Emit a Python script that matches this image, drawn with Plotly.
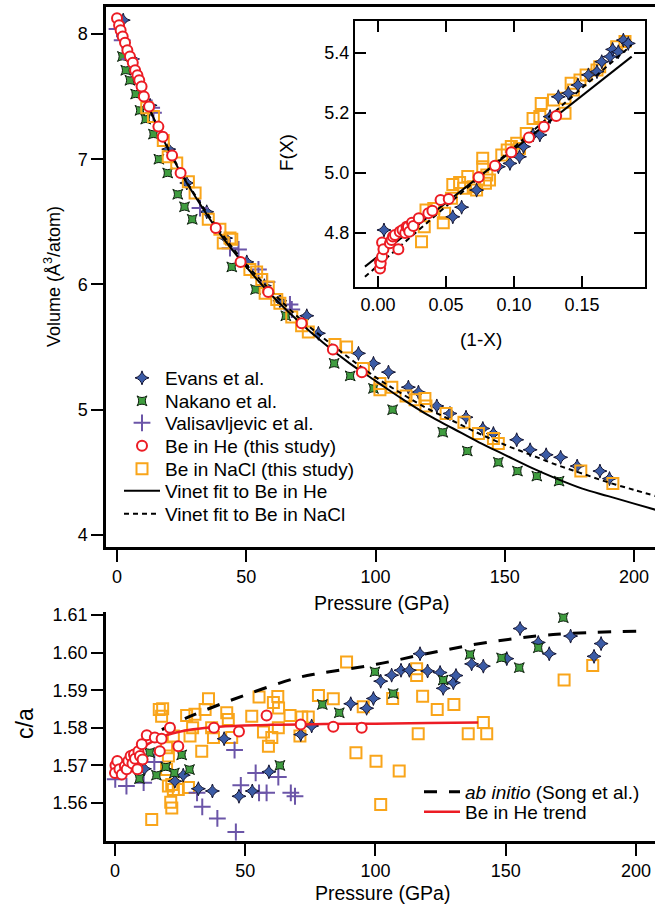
import plotly.graph_objects as go

W, H = 655, 906

# ---------------- main panel data (Pressure GPa, Volume A^3/atom) ----------------
evans_P = [2.4, 6, 12.8, 20, 27, 34.7, 42, 50.2, 57, 63, 73.4, 77.9, 93.4, 99.2, 105, 112.7, 116.6,
           123.7, 128.8, 135, 141.5, 145.6, 154.6, 159.8, 166, 171.6, 178, 186.8, 190.5]
evans_V = [8.11, 7.80, 7.43, 7.08, 6.81, 6.58, 6.37, 6.18, 5.99, 5.87, 5.75, 5.61, 5.45, 5.37, 5.30, 5.18, 5.14,
           5.03, 4.97, 4.94, 4.85, 4.81, 4.76, 4.68, 4.64, 4.62, 4.55, 4.51, 4.45]

nakano_P = [2.1, 3.4, 5.0, 7.2, 8.9, 11.1, 14.1, 16.2, 19.6, 23.5, 26.1, 29.1, 44.4, 53.6, 65.3, 84.0,
            90.2, 99.2, 106.6, 126, 135.5, 147.5, 154.9, 162.4, 171]
nakano_V = [7.82, 7.71, 7.63, 7.52, 7.39, 7.32, 7.20, 7.00, 6.89, 6.72, 6.62, 6.52, 6.14, 5.96, 5.75, 5.37,
            5.27, 5.17, 5.00, 4.82, 4.67, 4.58, 4.51, 4.47, 4.43]

vali_P = [0, 2, 5, 13.4, 14.1, 32.1, 43.7, 47, 54.7, 58, 66.9, 67.6]
vali_V = [8.04, 7.95, 7.80, 7.41, 7.37, 6.61, 6.29, 6.28, 6.12, 6.02, 5.84, 5.80]

he_P = [0, 0.8, 1.4, 2.2, 3.1, 4.0, 5.0, 6.1, 7.0, 7.9, 8.6, 9.5, 10.4, 12.4, 16.0, 17.7, 21.3, 24.6,
        38.2, 47.8, 58.5, 71.4, 83.5, 94.7]
he_V = [8.125, 8.07, 8.03, 7.98, 7.93, 7.87, 7.82, 7.77, 7.71, 7.67, 7.63, 7.58, 7.50, 7.42, 7.26, 7.18,
        7.03, 6.89, 6.45, 6.18, 5.94, 5.69, 5.48, 5.30]

nacl_P = [11.5, 14.1, 17.9, 19.8, 23.1, 27.6, 30.2, 35.3, 39.8, 41.1, 43.7, 44.4, 51.4, 54.0, 56.0, 57.3,
          58.5, 61.8, 63.0, 67.6, 71.4, 74.0, 84.3, 88.8, 95.3, 101.7, 101.7, 106.3, 111.8, 115.3, 119.1,
          119.5, 127.3, 134.2, 139.8, 145.6, 147.5, 179.4, 191.8]
nacl_V = [7.41, 7.34, 7.15, 7.02, 6.97, 6.82, 6.73, 6.52, 6.44, 6.33, 6.37, 6.36, 6.12, 6.10, 6.04, 5.93,
          5.98, 5.88, 5.85, 5.74, 5.67, 5.62, 5.52, 5.50, 5.33, 5.21, 5.16, 5.18, 5.11, 5.08, 5.09,
          5.03, 4.97, 4.90, 4.81, 4.77, 4.73, 4.51, 4.41]

fitHe_P = [0, 5, 10, 15, 20, 25, 30, 40, 50, 60, 70, 80, 90, 100, 110, 120, 130, 140, 150, 160, 170,
           180, 190, 200, 208.5]
fitHe_V = [8.125, 7.82, 7.53, 7.29, 7.07, 6.88, 6.71, 6.40, 6.14, 5.91, 5.71, 5.53, 5.37, 5.23, 5.09,
           4.96, 4.85, 4.74, 4.64, 4.54, 4.45, 4.37, 4.31, 4.25, 4.20]

fitNaCl_P = [0, 5, 10, 15, 20, 25, 30, 40, 50, 60, 70, 80, 90, 100, 110, 120, 130, 140, 150, 160, 170,
             180, 190, 200, 208.5]
fitNaCl_V = [8.12, 7.82, 7.53, 7.29, 7.08, 6.89, 6.72, 6.42, 6.16, 5.94, 5.74, 5.57, 5.41, 5.26, 5.13,
             5.01, 4.91, 4.81, 4.72, 4.64, 4.56, 4.49, 4.42, 4.36, 4.31]

# ---------------- inset data ((1-X), F(X)) ----------------
in_he_x = [0.0015, 0.0015, 0.002, 0.003, 0.003, 0.004, 0.0088, 0.010, 0.011, 0.0125, 0.015, 0.016, 0.018,
           0.020, 0.021, 0.022, 0.023, 0.025, 0.026, 0.030, 0.037, 0.040, 0.046, 0.052, 0.074, 0.086,
           0.098, 0.111, 0.122, 0.131]
in_he_F = [4.682, 4.704, 4.699, 4.721, 4.768, 4.746, 4.766, 4.777, 4.788, 4.793, 4.746, 4.804, 4.81,
           4.80, 4.821, 4.82, 4.804, 4.834, 4.823, 4.849, 4.866, 4.874, 4.91, 4.913, 4.986, 5.024,
           5.069, 5.118, 5.154, 5.19]

in_nacl_x = [0.032, 0.034, 0.0353, 0.041, 0.048, 0.049, 0.054, 0.055, 0.060, 0.063, 0.066, 0.070, 0.0725,
             0.077, 0.077, 0.079, 0.080, 0.082, 0.091, 0.095, 0.098, 0.102, 0.104, 0.109, 0.114, 0.119,
             0.120, 0.129, 0.1375, 0.1375, 0.142, 0.1436, 0.1485, 0.153, 0.161, 0.163, 0.1755, 0.1816]
in_nacl_F = [4.771, 4.821, 4.877, 4.882, 4.834, 4.866, 4.916, 4.962, 4.968, 4.949, 4.988, 4.954, 4.943,
             5.049, 5.021, 4.966, 4.993, 4.977, 5.06, 5.077, 5.088, 5.099, 5.082, 5.132, 5.182, 5.188,
             5.232, 5.243, 5.199, 5.249, 5.299, 5.277, 5.31, 5.327, 5.343, 5.354, 5.421, 5.438]

in_ev_x = [0.0044, 0.055, 0.0615, 0.0725, 0.0885, 0.097, 0.104, 0.107, 0.114, 0.119, 0.1265, 0.1326,
           0.140, 0.147, 0.1547, 0.161, 0.1645, 0.1706, 0.1725, 0.1767, 0.1804, 0.184]
in_ev_F = [4.81, 4.854, 4.886, 4.943, 5.021, 5.032, 5.054, 5.088, 5.127, 5.127, 5.188, 5.254,
           5.266, 5.293, 5.327, 5.338, 5.371, 5.388, 5.412, 5.404, 5.443, 5.432]

in_fitHe_x = [-0.0096, 0.1865]
in_fitHe_F = [4.688, 5.388]
in_fitNaCl_x = [-0.0096, 0.1865]
in_fitNaCl_F = [4.654, 5.427]

# ---------------- bottom panel data (Pressure GPa, c/a) ----------------
ca_he_P = [0.2, 0.0, 0.9, 1.7, 2.6, 3.8, 4.5, 5.1, 6.0, 6.7, 7.3, 7.7, 8.6, 9.0, 9.6, 10.3, 10.6, 12.2,
           15.3, 17.2, 17.9, 21.1, 24.3, 38.0, 47.6, 58.2, 71.3, 83.8, 94.7]
ca_he = [1.5700, 1.5680, 1.5712, 1.5690, 1.5676, 1.5698, 1.5690, 1.5712, 1.5725, 1.5705, 1.5729, 1.5718,
         1.5690, 1.5738, 1.5725, 1.5756, 1.5716, 1.5780, 1.5774, 1.5738, 1.5771, 1.5800, 1.5751,
         1.5800, 1.5790, 1.5833, 1.5809, 1.5803, 1.5800]

ca_nacl_P = [14.1, 17.0, 17.9, 18.3, 19.8, 20.5, 21.8, 21.4, 21.8, 22.4, 20.5, 19.8, 22.4, 24.3, 27.5,
             28.2, 28.8, 30.7, 29.8, 33.3, 34.6, 35.9, 37.1, 37.8, 42.9, 43.5, 44.8, 52.5, 55.3, 57.0,
             58.9, 60.2, 60.8, 62.5, 62.8, 62.7, 67.2, 71.0, 71.7, 74.2, 78.1, 83.8, 88.9, 95.3, 92.5,
             100.2, 102.0, 106.6, 109.1, 115.8, 115.8, 116.4, 118.1, 123.7, 130.1, 135.6, 141.4,
             142.7, 172.4, 183.4]
ca_nacl = [1.5556, 1.5849, 1.5831, 1.5851, 1.5689, 1.5645, 1.5649, 1.5602, 1.5587, 1.5636, 1.5725,
           1.5747, 1.5778, 1.5636, 1.5833, 1.5641, 1.5778, 1.5836, 1.5800, 1.5738, 1.5849, 1.5877,
           1.5800, 1.5774, 1.5840, 1.5822, 1.5774, 1.5831, 1.5882, 1.5789, 1.5751, 1.5774, 1.5867,
           1.5883, 1.5853, 1.5800, 1.5833, 1.5778, 1.5829, 1.5829, 1.5886, 1.5877, 1.5975, 1.5856,
           1.5734, 1.5711, 1.5596, 1.5878, 1.5685, 1.5957, 1.5939, 1.5784, 1.5884, 1.5849, 1.5862,
           1.5784, 1.5814, 1.5784, 1.5927, 1.5966]

ca_ev_P = [11.3, 23.0, 26.2, 32.0, 37.4, 41.9, 47.6, 52.7, 59.1, 71.3, 75.5, 90.5, 96.6, 99.2, 102.0,
           106.2, 109.8, 113.0, 117.1, 120.0, 124.8, 126.0, 129.9, 130.9, 136.9, 141.4, 150.4, 151.6,
           155.5, 162.5, 166.7, 174.9, 183.9, 186.6]
ca_ev = [1.5691, 1.5658, 1.5674, 1.5638, 1.5632, 1.5771, 1.5618, 1.5632, 1.5683, 1.5782, 1.5805,
         1.5864, 1.5852, 1.5878, 1.5924, 1.5940, 1.5953, 1.5953, 1.5997, 1.5951, 1.5947, 1.5905,
         1.5920, 1.5939, 1.5970, 1.5964, 1.5984, 1.6115, 1.6064, 1.6027, 1.5997, 1.6044, 1.5990,
         1.6024]

ca_nak_P = [9.4, 13.3, 15.9, 19.5, 22.8, 25.6, 28.6, 63.3, 79.6, 86.1, 99.8, 106.8, 126.0, 136.3, 148.4,
            155.2, 162.5, 172.1]
ca_nak = [1.5665, 1.5734, 1.5674, 1.5696, 1.5680, 1.5728, 1.5689, 1.5700, 1.5862, 1.5840, 1.5949,
          1.5891, 1.5927, 1.5995, 1.5986, 1.5960, 1.6013, 1.6093]

ca_vali_P = [0.1, 4.4, 11.0, 15.1, 31.5, 33.5, 39.3, 45.9, 46.4, 48.3, 54.0, 55.3, 58.2, 62.7, 67.5, 69.1]
ca_vali = [1.5663, 1.5645, 1.5654, 1.5709, 1.5627, 1.5590, 1.5559, 1.5741, 1.5523, 1.5647, 1.5680,
           1.5627, 1.5627, 1.5669, 1.5627, 1.5618]

abinit_P = [18, 29.7, 49.5, 70, 78.7, 100.4, 121, 142.7, 168.2, 200.3]
abinit_ca = [1.5795, 1.5833, 1.5886, 1.5933, 1.5945, 1.5969, 1.5999, 1.6027, 1.6048, 1.6057]

trend_P = [0, 5, 10, 15, 20, 30, 40, 60, 80, 100, 120, 139.4]
trend_ca = [1.5697, 1.5717, 1.5745, 1.5766, 1.5781, 1.5796, 1.5803, 1.5808, 1.5810, 1.5811, 1.5813, 1.5814]

# ---------------- styles ----------------
FONT = "Liberation Sans, Arial, Helvetica, sans-serif"
RED = "#ec1c24"
ORANGE = "#f9a51a"
BLUE = "#3b5ba5"
GREEN = "#3f9d3f"
PURPLE = "#6b55a8"

m_ev = dict(symbol="star-diamond", size=10, color=BLUE, line=dict(color="#141430", width=1))
m_nak = dict(symbol="star-square", size=9, color=GREEN, line=dict(color="#102010", width=1))
m_vali = dict(symbol="cross-thin", size=12, color=PURPLE, line=dict(color=PURPLE, width=2))
m_he = dict(symbol="circle", size=10, color="white", line=dict(color=RED, width=2))
m_nacl = dict(symbol="square-open", size=11, color=ORANGE, line=dict(color=ORANGE, width=2))

fig = go.Figure()

def sc(x, y, name, marker, ax, legend=None, show=False):
    kw = dict(x=x, y=y, mode="markers", name=name, marker=marker, xaxis=ax[0], yaxis=ax[1],
              showlegend=show, cliponaxis=False)
    if legend:
        kw["legend"] = legend
    fig.add_trace(go.Scatter(**kw))

main = ("x", "y")
ins = ("x2", "y2")
bot = ("x3", "y3")

# main panel
sc(nakano_P, nakano_V, "Nakano et al.", m_nak, main, "legend2", True)
sc(evans_P, evans_V, "Evans et al.", m_ev, main, "legend", True)
sc(vali_P, vali_V, "Valisavljevic et al.", m_vali, main, "legend3", True)
sc(nacl_P, nacl_V, "Be in NaCl (this study)", m_nacl, main, "legend5", True)
fig.add_trace(go.Scatter(x=fitHe_P, y=fitHe_V, mode="lines", name="Vinet fit to Be in He",
                         line=dict(color="black", width=2, shape="spline"), xaxis="x", yaxis="y",
                         legend="legend6"))
fig.add_trace(go.Scatter(x=fitNaCl_P, y=fitNaCl_V, mode="lines", name="Vinet fit to Be in NaCl",
                         line=dict(color="black", width=2, dash="5px,4px", shape="spline"),
                         xaxis="x", yaxis="y", legend="legend7"))
sc(he_P, he_V, "Be in He (this study)", m_he, main, "legend4", True)

# inset
sc(in_nacl_x, in_nacl_F, "nacl_in", m_nacl, ins)
sc(in_ev_x, in_ev_F, "ev_in", m_ev, ins)
fig.add_trace(go.Scatter(x=in_fitHe_x, y=in_fitHe_F, mode="lines", showlegend=False,
                         line=dict(color="black", width=2), xaxis="x2", yaxis="y2"))
fig.add_trace(go.Scatter(x=in_fitNaCl_x, y=in_fitNaCl_F, mode="lines", showlegend=False,
                         line=dict(color="black", width=2, dash="5px,4px"), xaxis="x2", yaxis="y2"))
sc(in_he_x, in_he_F, "he_in", m_he, ins)

# bottom panel
sc(ca_nacl_P, ca_nacl, "nacl_ca", m_nacl, bot)
sc(ca_vali_P, ca_vali, "vali_ca", m_vali, bot)
fig.add_trace(go.Scatter(x=abinit_P, y=abinit_ca, mode="lines", name="<i>ab initio</i> (Song et al.)",
                         line=dict(color="black", width=3, dash="13px,12px", shape="spline"),
                         xaxis="x3", yaxis="y3", legend="legend8"))
sc(ca_ev_P, ca_ev, "ev_ca", m_ev, bot)
sc(ca_nak_P, ca_nak, "nak_ca", m_nak, bot)
fig.add_trace(go.Scatter(x=trend_P, y=trend_ca, mode="lines", name="Be in He trend",
                         line=dict(color=RED, width=2.5, shape="spline"), xaxis="x3", yaxis="y3",
                         legend="legend9"))
sc(ca_he_P, ca_he, "he_ca", m_he, bot)

# ---------------- layout ----------------
def px(xp):
    return xp / W

def py(yp):
    return 1 - yp / H

tickfont = dict(family=FONT, size=18, color="black")
axis_common = dict(showgrid=False, zeroline=False, showline=True, linecolor="black",
                   tickcolor="black", tickfont=tickfont, automargin=False)

layout = dict(
    width=W, height=H, margin=dict(l=0, r=0, t=0, b=0, autoexpand=False),
    paper_bgcolor="white", plot_bgcolor="white",
    font=dict(family=FONT, size=18, color="black"),
    xaxis=dict(axis_common, domain=[px(106), 1], range=[-4.26, 208.1], anchor="y",
               ticks="outside", ticklen=12, tickwidth=2, linewidth=2.5, mirror=True,
               tickvals=[0, 50, 100, 150, 200]),
    yaxis=dict(axis_common, domain=[py(547), py(7)], range=[3.904, 8.215], anchor="x",
               ticks="outside", ticklen=12, tickwidth=2, linewidth=2.5,
               tickvals=[4, 5, 6, 7, 8]),
    xaxis2=dict(axis_common, domain=[px(355), px(645)], range=[-0.0169, 0.1963], anchor="y2",
                ticks="inside", ticklen=11, tickwidth=2, linewidth=2, mirror="allticks",
                tickvals=[0, 0.05, 0.10, 0.15], ticktext=["0.00", "0.05", "0.10", "0.15"]),
    yaxis2=dict(axis_common, domain=[py(287), py(21)], range=[4.62, 5.5067], anchor="x2",
                ticks="inside", ticklen=11, tickwidth=2, linewidth=2, mirror="allticks",
                tickvals=[4.8, 5.0, 5.2, 5.4], ticktext=["4.8", "5.0", "5.2", "5.4"]),
    xaxis3=dict(axis_common, domain=[px(106), 1], range=[-3.45, 207.3], anchor="y3",
                ticks="outside", ticklen=12, tickwidth=2, linewidth=2.5,
                tickvals=[0, 50, 100, 150, 200]),
    yaxis3=dict(axis_common, domain=[py(841), py(612)], range=[1.5499, 1.6108], anchor="x3",
                ticks="outside", ticklen=12, tickwidth=2, linewidth=2.5,
                tickvals=[1.56, 1.57, 1.58, 1.59, 1.60, 1.61],
                ticktext=["1.56", "1.57", "1.58", "1.59", "1.60", "1.61"]),
)

leg_font = dict(family=FONT, size=19, color="black")
main_leg_y = [378, 401, 423, 446, 469, 491, 514]
names = ["legend", "legend2", "legend3", "legend4", "legend5", "legend6", "legend7"]
for nm, yy in zip(names, main_leg_y):
    layout[nm] = dict(x=px(119), y=py(yy), xanchor="left", yanchor="middle", font=leg_font,
                      bgcolor="rgba(0,0,0,0)", borderwidth=0, itemwidth=36, tracegroupgap=0)
for nm, yy in zip(["legend8", "legend9"], [792, 812]):
    layout[nm] = dict(x=px(419), y=py(yy), xanchor="left", yanchor="middle", font=leg_font,
                      bgcolor="rgba(0,0,0,0)", borderwidth=0, itemwidth=36, tracegroupgap=0)

def ann(text, x, y, size=18, angle=0):
    return dict(text=text, x=px(x), y=py(y), xref="paper", yref="paper", showarrow=False,
                xanchor="center", yanchor="middle", textangle=angle,
                font=dict(family=FONT, size=size, color="black"))

layout["annotations"] = [
    ann("Volume (Å<sup>3</sup>/atom)", 52, 277, 18, -90),
    ann("Pressure (GPa)", 381, 603, 19.5),
    ann("F(X)", 287, 153, 19, -90),
    ann("(1-X)", 481, 339, 19),
    ann("c/a", 25, 724, 23, -90),
    ann("Pressure (GPa)", 382, 893, 19.5),
]

fig.update_layout(**layout)
fig.write_html("out.html")
